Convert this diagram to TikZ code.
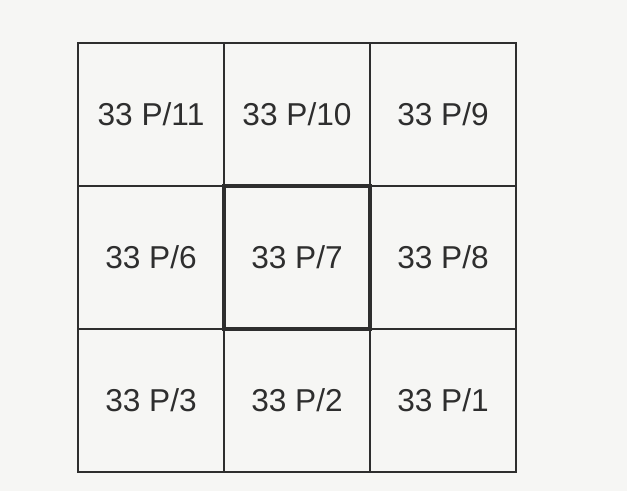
\documentclass[tikz,border=0pt]{standalone}
\usepackage{fontspec}
\setmainfont{Liberation Sans}
\usepackage{xcolor}
\definecolor{paper}{HTML}{F6F6F4}
\definecolor{ink}{HTML}{2E2E2E}

\begin{document}
\begin{tikzpicture}[
  every node/.style={font=\fontsize{22.5}{26}\selectfont, text=ink},
  sheet/.style={rectangle, draw=ink, line width=0.9pt, minimum width=3.65cm, minimum height=3.575cm, inner sep=0pt, align=center},
  centresheet/.style={sheet, line width=2.6pt},
]
\fill[paper] (0,0) rectangle (15.675,-12.275);
\useasboundingbox (0,0) rectangle (15.675,-12.275);

\node[sheet] (p11) at (3.775, -2.8625) {33 P/11};
\node[sheet] (p10) at (7.425, -2.8625) {33 P/10};
\node[sheet] (p9) at (11.075, -2.8625) {33 P/9};
\node[sheet] (p6) at (3.775, -6.4375) {33 P/6};
\node[sheet] (p8) at (11.075, -6.4375) {33 P/8};
\node[sheet] (p3) at (3.775, -10.0125) {33 P/3};
\node[sheet] (p2) at (7.425, -10.0125) {33 P/2};
\node[sheet] (p1) at (11.075, -10.0125) {33 P/1};
% sheet of interest
\node[centresheet] (p7) at (7.425, -6.4375) {33 P/7};
\end{tikzpicture}
\end{document}
